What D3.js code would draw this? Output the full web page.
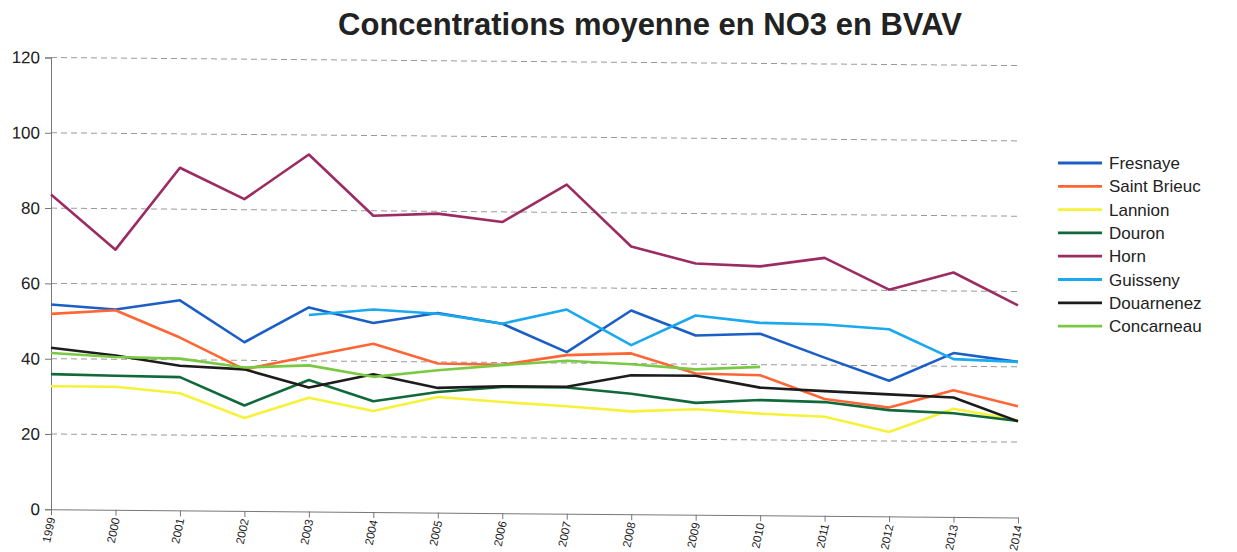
<!DOCTYPE html>
<html>
<head>
<script src="https://d3js.org/d3.v7.min.js"></script>
<style>
  body { margin: 0; background: #fff; font-family: 'Liberation Sans', Arial, sans-serif; }
</style>
</head>
<body>
<div id="chart"></div>
<script>
const years = ["1999","2000","2001","2002","2003","2004","2005","2006","2007","2008","2009","2010","2011","2012","2013","2014"];
const yTicks = [0, 20, 40, 60, 80, 100, 120];

const fresnaye    = [54.4, 53.2, 55.8, 44.8, 54.2, 50.2, 53.0, 50.3, 42.9, 54.1, 47.6, 48.2, 42.0, 36.0, 43.5, 41.3];
const saintBrieuc = [51.9, 53.0, 45.9, 37.6, 41.2, 44.7, 39.6, 39.4, 42.1, 42.7, 37.5, 37.2, 31.0, 28.9, 33.6, 29.5];
const lannion     = [32.7, 32.7, 31.1, 24.7, 30.2, 26.8, 30.7, 29.5, 28.5, 27.3, 28.0, 27.0, 26.3, 22.4, 28.7, 25.8];
const douron      = [35.9, 35.6, 35.4, 28.0, 34.9, 29.4, 32.0, 33.5, 33.5, 32.0, 29.7, 30.6, 30.2, 28.2, 27.5, 25.6];
const horn        = [83.6, 69.1, 91.0, 82.8, 94.8, 78.7, 79.4, 77.3, 87.4, 71.1, 66.7, 66.1, 68.5, 60.2, 64.9, 56.3];
const guisseny    = [null, null, null, null, 52.2, 53.8, 52.8, 50.3, 54.2, 44.9, 52.9, 51.1, 50.8, 49.7, 41.9, 41.3];
const douarnenez  = [42.9, 41.0, 38.4, 37.6, 32.9, 36.6, 33.1, 33.7, 33.7, 36.9, 36.9, 33.9, 33.1, 32.4, 31.7, 25.5];
const concarneau  = [41.5, 40.6, 40.3, 38.1, 38.8, 35.9, 37.8, 39.3, 40.6, 39.8, 38.6, 39.4, null, null, null, null];

const seriesNames  = ["Fresnaye", "Saint Brieuc", "Lannion", "Douron", "Horn", "Guisseny", "Douarnenez", "Concarneau"];
const seriesValues = [fresnaye, saintBrieuc, lannion, douron, horn, guisseny, douarnenez, concarneau];
const seriesColors = ["#1b5fc6", "#ff6633", "#f6f23a", "#11693b", "#9c2b63", "#1aa8ee", "#1c1c1c", "#7ac943"];

const width = 1237, height = 552;
const x0 = 51, y0 = 509.3, plotW = 967, plotH = 451.8;

const svg = d3.select("#chart").append("svg")
    .attr("width", width)
    .attr("height", height);

// title
const title = svg.append("text")
    .attr("x", 650)
    .attr("y", 35)
    .attr("text-anchor", "middle")
    .attr("font-weight", "bold")
    .attr("font-size", 25)
    .attr("fill", "#222")
    .text("Concentrations moyenne en NO3 en BVAV");
const tw = title.node().getComputedTextLength();
title.attr("font-size", 25 * 624 / tw);

const x = d3.scalePoint().domain(years).range([0, plotW]);
const y = d3.scaleLinear().domain([0, 120]).range([0, -plotH]);

// the scan is slightly sheared: right side sits a few px lower
const plot = svg.append("g")
    .attr("transform", `translate(${x0},${y0}) skewY(0.48)`);

plot.append("g")
    .selectAll("line")
    .data(yTicks.filter(d => d > 0))
    .join("line")
    .attr("x1", 0)
    .attr("x2", plotW + 3)
    .attr("y1", d => y(d))
    .attr("y2", d => y(d))
    .attr("stroke", "#9a9a9a")
    .attr("stroke-width", 1)
    .attr("stroke-dasharray", "6,4");

const yAxis = plot.append("g")
    .call(d3.axisLeft(y).tickValues(yTicks).tickSize(6).tickPadding(5));
yAxis.select(".domain").attr("stroke", "#777");
yAxis.selectAll(".tick line").attr("stroke", "#777");
yAxis.selectAll(".tick text")
    .attr("font-size", 17)
    .attr("font-family", "'Liberation Sans', Arial, sans-serif")
    .attr("fill", "#222");

const xAxis = plot.append("g")
    .call(d3.axisBottom(x).tickSize(6).tickSizeOuter(0));
xAxis.select(".domain").attr("stroke", "#777");
xAxis.selectAll(".tick line").attr("stroke", "#777");
xAxis.selectAll(".tick text")
    .attr("font-size", 11.5)
    .attr("font-family", "'Liberation Sans', Arial, sans-serif")
    .attr("fill", "#222")
    .attr("text-anchor", "end")
    .attr("dy", "0.35em")
    .attr("transform", "translate(0,8) rotate(-78)")
    .attr("x", 0)
    .attr("y", 0);

const line = d3.line()
    .defined(d => d != null)
    .x((d, i) => x(years[i]))
    .y(d => y(d));

plot.append("g")
    .selectAll("path")
    .data(seriesValues)
    .join("path")
    .attr("fill", "none")
    .attr("stroke", (d, i) => seriesColors[i])
    .attr("stroke-width", 2.6)
    .attr("stroke-linejoin", "round")
    .attr("d", line);

// legend
const legend = svg.append("g")
    .attr("transform", "translate(1058,163)")
    .selectAll("g")
    .data(seriesNames)
    .join("g")
    .attr("transform", (d, i) => `translate(0,${i * 23.3})`);

legend.append("line")
    .attr("x1", 0)
    .attr("x2", 44)
    .attr("stroke", (d, i) => seriesColors[i])
    .attr("stroke-width", 2.8);

legend.append("text")
    .attr("x", 51)
    .attr("dy", "0.36em")
    .attr("font-size", 17)
    .attr("fill", "#222")
    .text(d => d);
</script>
</body>
</html>
